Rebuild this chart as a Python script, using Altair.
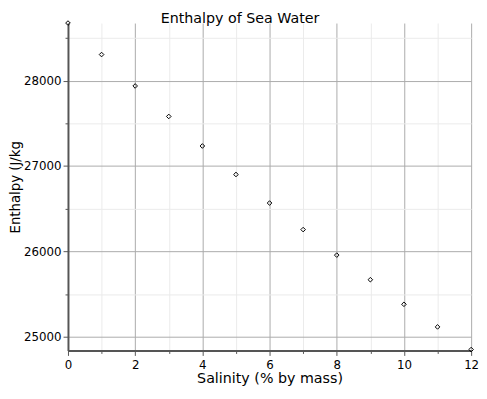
import altair as alt
import pandas as pd

salinity = [0, 1, 2, 3, 4, 5, 6, 7, 8, 9, 10, 11, 12]
enthalpy = [28674, 28305, 27937, 27580, 27234, 26900, 26566, 26255, 25956, 25668, 25380, 25115, 24850]

x_ticks = list(range(0, 13))
y_ticks = [25000, 25500, 26000, 26500, 27000, 27500, 28000, 28500]

df = pd.DataFrame({"Salinity": salinity, "Enthalpy": enthalpy})

font = "DejaVu Sans"

chart = alt.Chart(df).mark_point(
    shape="diamond", filled=False, color="black", size=22, strokeWidth=1, opacity=1
).encode(
    x=alt.X("Salinity:Q", scale=alt.Scale(domain=[0, 12], nice=False),
            axis=alt.Axis(values=x_ticks, title="Salinity (% by mass)",
                          labelExpr="datum.value % 2 == 0 ? datum.label : ''",
                          gridColor=alt.condition("datum.value % 2 == 0", alt.value("#aaaaaa"), alt.value("#ebebeb")),
                          tickSize=alt.condition("datum.value % 2 == 0", alt.value(5), alt.value(3)),
                          format="d", labelPadding=4, titlePadding=2, titleFontSize=14.5,
                          labelFlush=False)),
    y=alt.Y("Enthalpy:Q", scale=alt.Scale(domain=[24839, 28674], nice=False, zero=False),
            axis=alt.Axis(values=y_ticks, title="Enthalpy (J/kg",
                          labelExpr="datum.value % 1000 == 0 ? datum.label : ''",
                          gridColor=alt.condition("datum.value % 1000 == 0", alt.value("#aaaaaa"), alt.value("#ebebeb")),
                          tickSize=alt.condition("datum.value % 1000 == 0", alt.value(5), alt.value(3)),
                          format="d", labelPadding=2, titlePadding=1, titleFontSize=13.5)),
).properties(
    width=410, height=333,
    title=alt.TitleParams("Enthalpy of Sea Water", fontSize=14.5, font=font, fontWeight="normal",
                          color="black", offset=4, dy=12, dx=-30),
    autosize=alt.AutoSizeParams(type="none"),
    padding={"left": 61, "top": 12, "right": 8, "bottom": 44},
).configure_axis(
    labelFont=font, titleFont=font, labelFontSize=12,
    titleFontWeight="normal", labelColor="black", titleColor="black",
    domainColor="#555555", domainWidth=2, tickColor="#555555", tickWidth=1,
    gridWidth=1,
).configure_view(stroke=None)

chart.save("out.html", embed_options={"renderer": "svg", "actions": False})
